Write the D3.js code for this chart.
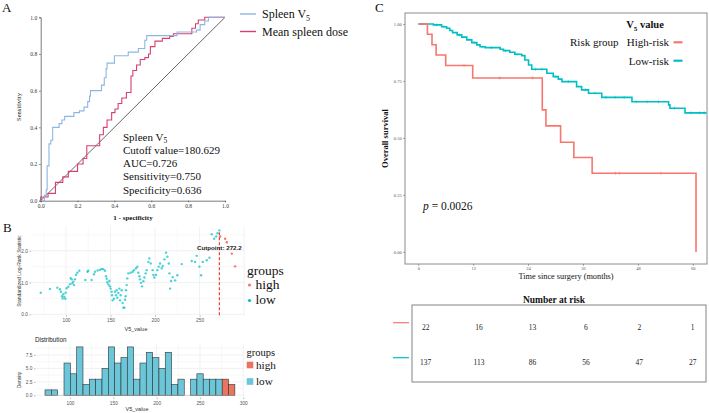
<!DOCTYPE html>
<html>
<head>
<meta charset="utf-8">
<script src="https://cdn.jsdelivr.net/npm/d3@7"></script>
<style>
body { margin: 0; background: #fff; }
svg { display: block; }
</style>
</head>
<body>
<svg id="fig" width="709" height="413"></svg>
<script>
// ---------- data ----------
// ROC curves: [1 - specificity, sensitivity], sensitivity rises at that x
let rocV5 = [[0,0],[0.02,0.03],[0.03,0.06],[0.035,0.19],[0.045,0.31],[0.055,0.33],[0.065,0.4],[0.1,0.42],[0.115,0.44],[0.13,0.46],[0.18,0.48],[0.21,0.49],[0.235,0.51],[0.255,0.54],[0.265,0.57],[0.27,0.6],[0.33,0.63],[0.345,0.67],[0.355,0.72],[0.36,0.75],[0.4,0.79],[0.475,0.81],[0.53,0.83],[0.565,0.875],[0.575,0.9],[0.71,0.9],[0.74,0.92],[0.845,0.93],[0.865,0.96],[0.89,0.98],[0.91,1],[1,1]]
let rocMean = [[0,0],[0,0.02],[0.04,0.04],[0.08,0.1],[0.12,0.13],[0.15,0.16],[0.2,0.2],[0.23,0.23],[0.25,0.3],[0.32,0.36],[0.34,0.4],[0.36,0.44],[0.385,0.48],[0.403,0.5],[0.42,0.53],[0.44,0.56],[0.465,0.59],[0.49,0.68],[0.5,0.71],[0.52,0.74],[0.54,0.77],[0.565,0.78],[0.585,0.8],[0.595,0.84],[0.62,0.87],[0.66,0.885],[0.7,0.895],[0.72,0.91],[0.82,0.94],[0.84,0.965],[0.855,0.985],[0.89,1],[1,1]]
let rocStats = ['Spleen V', 'Cutoff value=180.629', 'AUC=0.726', 'Sensitivity=0.750', 'Specificity=0.636']

// maximally selected rank statistic: [V5 value, statistic]
let scatterLow = [[71.6,0.68],[82,0.8],[90.2,0.84],[93.2,0.79],[94.3,0.71],[95.5,0.57],[96.2,0.5],[97,0.63],[98.1,0.55],[99.2,0.49],[99.6,0.68],[100.7,0.82],[102.6,0.87],[104.5,0.95],[105.2,1.14],[106.4,1.1],[107.1,0.98],[108.2,1.03],[109,0.92],[110.1,1.1],[111.2,1.24],[112.7,1.31],[115,1.37],[121.7,1.08],[124,1.34],[125,1.37],[128.8,1.08],[131.4,1.26],[132.6,1.34],[135.5,1.38],[138.2,1.4],[140,1.43],[141.9,1.42],[143.8,1.37],[144.9,1.2],[145.7,1.12],[146.4,1.01],[147.6,0.94],[148.7,1.05],[149.4,0.88],[150.2,0.81],[151.3,0.71],[151.7,0.6],[152.4,0.44],[153.9,0.49],[155,0.71],[156.2,0.6],[156.9,0.76],[157.7,0.52],[158.8,0.67],[159.9,0.81],[160.7,0.44],[161.4,0.6],[162.5,0.76],[163.6,0.36],[164.4,0.21],[165.5,0.21],[166.3,0.46],[167,0.57],[167.4,0.76],[168.2,0.92],[168.9,1.13],[170,1.29],[172.6,1.31],[174.9,1.34],[176.4,1.39],[178.6,1.45],[180.1,1.5],[181.2,1.31],[182.4,1.2],[183.1,1.1],[184.2,0.99],[185.4,0.88],[186.9,1.04],[188,1.16],[189.5,1.29],[190.6,1.39],[192.5,1.65],[193.6,1.76],[195.1,1.6],[197.3,1.39],[198.1,1.24],[199.2,1.16],[201.1,1.24],[202.6,1.39],[204.1,1.5],[205.6,1.6],[207.5,1.45],[208.6,1.52],[210.5,1.73],[212.4,1.94],[213.9,1.81],[215.4,1.6],[216.1,1.29],[216.9,0.81],[218,1.05],[219.9,1.17],[222.5,1.07],[225.1,1.23],[230,1.58],[241.2,1.68],[245,1.65],[246.8,1.84],[249.8,1.5],[251.7,1.23],[253.6,1.65],[258.1,1.7],[261.1,1.78],[263.7,2.52],[266.3,2.38],[268.6,2.45],[270.1,2.55],[272.2,2.64]]
let scatterHigh = [[273.1,2.45],[278.7,2.38],[280.6,2.27],[286.2,1.91],[289.9,1.51]]
let cutpoint = 272.2

// histogram of V5 value (30 bins)
let histStart = 71.2
let histBinWidth = 7.303
let histLow  = [1,1,0,6,4,9,2,3,3,5,9,6,7,9,3,6,8,7,5,8,2,3,0,3,4,3,3,3,0,0]
let histHigh = [0,0,0,0,0,0,0,0,0,0,0,0,0,0,0,0,0,0,0,0,0,0,0,0,0,0,0,0,3,2]

// Kaplan-Meier: [months, survival] at each drop
let kmHigh = [[0,1],[2,0.955],[3,0.909],[3.9,0.864],[6,0.818],[11.9,0.763],[27.1,0.623],[27.9,0.553],[31.1,0.481],[34,0.414],[38,0.345],[60.7,0]]
let kmLow = [[0,1],[3.3,0.996],[5.1,0.988],[6.2,0.981],[6.9,0.971],[7.5,0.962],[8.5,0.952],[9.5,0.942],[10.6,0.93],[11.7,0.918],[12.8,0.908],[13.5,0.9],[14.6,0.896],[17.9,0.889],[18.6,0.883],[20,0.876],[21.1,0.867],[22.6,0.861],[23.3,0.842],[24.1,0.82],[24.8,0.801],[28.1,0.784],[29.5,0.769],[30.6,0.758],[31.4,0.747],[34.6,0.725],[35.7,0.711],[37.2,0.696],[40.1,0.678],[46.7,0.659],[54.7,0.645],[55,0.63],[58.3,0.61],[63,0.61]]
let censorHigh = [10, 17.8, 25, 43.1, 44, 53]
let censorLow = [4, 5.6, 9, 12.3, 14, 16, 19, 21.6, 25.6, 27, 30, 32.8, 36.5, 38.6, 41, 43, 45, 47.6, 50, 52.5, 56, 59.6, 61.5, 62.5]

let riskTimes = [0, 12, 24, 36, 48, 60]
let riskHigh = [22, 16, 13, 6, 2, 1]
let riskLow = [137, 113, 86, 56, 47, 27]

// ---------- colours ----------
let blueRoc = '#8db6e4'
let redRoc = '#d8406f'
let red = '#f8766d'
let teal = '#00bfc4'
let SERIF = '"Liberation Serif", "Times New Roman", serif'
let SANS = '"Liberation Sans", Arial, sans-serif'

let svg = d3.select('#fig')

let txt = (g, x, y, s, size, opts = {}) => {
    let t = g.append('text')
        .attr('x', x).attr('y', y)
        .attr('font-family', opts.family || SERIF)
        .attr('font-size', size)
        .attr('fill', opts.fill || '#111')
        .attr('text-anchor', opts.anchor || 'start')
        .text(s)
    if (opts.bold) t.attr('font-weight', 'bold')
    if (opts.rotate) t.attr('transform', `rotate(-90,${x},${y})`)
    return t
}

// panel letters
txt(svg, 2, 12, 'A', 13)
txt(svg, 3, 232, 'B', 13)
txt(svg, 375, 12, 'C', 13)

// ========== Panel A : ROC ==========
let ax = d3.scaleLinear().domain([0, 1]).range([40.7, 225])
let ay = d3.scaleLinear().domain([0, 1]).range([200.7, 17.3])
let gA = svg.append('g')

let styleAxis = (g, size, color) => {
    g.selectAll('text').attr('font-family', SERIF).attr('font-size', size).attr('fill', color)
}

gA.append('g').attr('transform', 'translate(0,200.7)')
    .call(d3.axisBottom(ax).tickValues(d3.range(0, 1.01, 0.2)).tickFormat(d3.format('.1f')).tickSize(1.5).tickPadding(2))
    .call(g => g.selectAll('path,line').attr('stroke', '#444').attr('stroke-width', 0.7))
    .call(g => styleAxis(g, 5.5, '#333'))
gA.append('g').attr('transform', 'translate(40.7,0)')
    .call(d3.axisLeft(ay).tickValues(d3.range(0, 1.01, 0.2)).tickFormat(d3.format('.1f')).tickSize(1.5).tickPadding(2))
    .call(g => g.selectAll('path,line').attr('stroke', '#444').attr('stroke-width', 0.7))
    .call(g => styleAxis(g, 5.5, '#333'))

gA.append('line')
    .attr('x1', ax(0)).attr('y1', ay(0)).attr('x2', ax(1)).attr('y2', ay(1))
    .attr('stroke', '#555').attr('stroke-width', 0.9)

let rocLine = d3.line().x(d => ax(d[0])).y(d => ay(d[1])).curve(d3.curveStepAfter)
gA.append('path').datum(rocMean).attr('d', rocLine)
    .attr('fill', 'none').attr('stroke', redRoc).attr('stroke-width', 1.1)
gA.append('path').datum(rocV5).attr('d', rocLine)
    .attr('fill', 'none').attr('stroke', blueRoc).attr('stroke-width', 1.1)

txt(gA, 20.5, 107, 'Sensitivity', 6.5, { anchor: 'middle', rotate: true })
txt(gA, 133, 220, '1 - specificity', 7, { anchor: 'middle', bold: true })

// stats block
rocStats.forEach((s, i) => {
    let t = txt(gA, 123, 140.5 + i * 13.3, s, 11)
    if (i === 0) t.append('tspan').attr('font-size', 7.5).attr('dy', 2.5).text('5')
})

// legend
let legA = [['Spleen V', blueRoc, '5'], ['Mean spleen dose', redRoc, null]]
legA.forEach((d, i) => {
    let y = 14 + i * 17.5
    gA.append('line').attr('x1', 240).attr('x2', 256).attr('y1', y).attr('y2', y)
        .attr('stroke', d[1]).attr('stroke-width', 1.4)
    let t = txt(gA, 262, y + 4, d[0], 12)
    if (d[2]) t.append('tspan').attr('font-size', 8).attr('dy', 2.5).text(d[2])
})

// ========== Panel B top : rank statistic scatter ==========
let sx = d3.scaleLinear().domain([60.7, 301]).range([31, 245])
let sy = d3.scaleLinear().domain([-0.03, 2.76]).range([315.3, 226.6])
let gB = svg.append('g')

d3.range(75, 301, 25).forEach(v => {
    gB.append('line').attr('x1', sx(v)).attr('x2', sx(v)).attr('y1', sy.range()[0]).attr('y2', sy.range()[1])
        .attr('stroke', '#ebebeb').attr('stroke-width', v % 50 === 0 ? 0.7 : 0.35)
})
d3.range(0, 2.76, 0.5).forEach(v => {
    gB.append('line').attr('x1', 31).attr('x2', 245).attr('y1', sy(v)).attr('y2', sy(v))
        .attr('stroke', '#ebebeb').attr('stroke-width', v % 1 === 0 ? 0.7 : 0.35)
})

gB.append('g').attr('transform', 'translate(0,315.3)')
    .call(d3.axisBottom(sx).tickValues([100, 150, 200, 250]).tickSize(1.5).tickPadding(2))
    .call(g => g.select('.domain').remove())
    .call(g => g.selectAll('line').attr('stroke', '#777').attr('stroke-width', 0.5))
    .call(g => g.selectAll('text').attr('font-family', SANS).attr('font-size', 4.8).attr('fill', '#555'))
gB.append('g').attr('transform', 'translate(31,0)')
    .call(d3.axisLeft(sy).tickValues([0, 1, 2]).tickSize(1.5).tickPadding(1.5))
    .call(g => g.select('.domain').remove())
    .call(g => g.selectAll('line').attr('stroke', '#777').attr('stroke-width', 0.5))
    .call(g => g.selectAll('text').attr('font-family', SANS).attr('font-size', 4.8).attr('fill', '#555'))

gB.selectAll('circle.low').data(scatterLow).enter().append('circle')
    .attr('class', 'low')
    .attr('cx', d => sx(d[0])).attr('cy', d => sy(d[1])).attr('r', 1.2)
    .attr('fill', teal).attr('fill-opacity', 0.7)
gB.selectAll('circle.high').data(scatterHigh).enter().append('circle')
    .attr('class', 'high')
    .attr('cx', d => sx(d[0])).attr('cy', d => sy(d[1])).attr('r', 1.2)
    .attr('fill', red)

gB.append('line').attr('x1', sx(cutpoint)).attr('x2', sx(cutpoint))
    .attr('y1', sy(-0.03)).attr('y2', sy(2.6))
    .attr('stroke', '#e8302a').attr('stroke-width', 1.1).attr('stroke-dasharray', '3,2')
txt(gB, sx(cutpoint), 250, 'Cutpoint: 272.2', 6.2, { family: SANS, anchor: 'middle', bold: true, fill: '#222' })

txt(gB, 136, 330.5, 'V5_value', 5.5, { family: SANS, anchor: 'middle', fill: '#333' })
txt(gB, 21, 271, 'Standardized Log-Rank Statistic', 5, { family: SANS, anchor: 'middle', rotate: true, fill: '#333' })

txt(gB, 247, 274.5, 'groups', 13.5)
let legB = [['high', red], ['low', teal]]
legB.forEach((d, i) => {
    let y = 285 + i * 15.5
    gB.append('circle').attr('cx', 249.5).attr('cy', y).attr('r', 1.6).attr('fill', d[1])
    txt(gB, 255.5, y + 3.8, d[0], 13.5)
})

// ========== Panel B bottom : distribution ==========
let hx = d3.scaleLinear().domain([60.2, 301.3]).range([35.5, 244.4])
let hy = d3.scaleLinear().domain([-0.45, 9.45]).range([397.7, 344.5])
let gH = svg.append('g')

d3.range(75, 301, 25).forEach(v => {
    gH.append('line').attr('x1', hx(v)).attr('x2', hx(v)).attr('y1', 397.7).attr('y2', 344.5)
        .attr('stroke', '#ebebeb').attr('stroke-width', v % 50 === 0 ? 0.7 : 0.35)
})
d3.range(0, 9.1, 1.25).forEach(v => {
    gH.append('line').attr('x1', 35.5).attr('x2', 244.4).attr('y1', hy(v)).attr('y2', hy(v))
        .attr('stroke', '#ebebeb').attr('stroke-width', (v / 2.5) % 1 === 0 ? 0.7 : 0.35)
})

gH.append('g').attr('transform', 'translate(0,397.7)')
    .call(d3.axisBottom(hx).tickValues([100, 150, 200, 250, 300]).tickSize(1.5).tickPadding(2))
    .call(g => g.select('.domain').remove())
    .call(g => g.selectAll('line').attr('stroke', '#777').attr('stroke-width', 0.5))
    .call(g => g.selectAll('text').attr('font-family', SANS).attr('font-size', 4.8).attr('fill', '#555'))
gH.append('g').attr('transform', 'translate(35.5,0)')
    .call(d3.axisLeft(hy).tickValues([0, 2.5, 5, 7.5]).tickFormat(d3.format('.1f')).tickSize(1.5).tickPadding(1.5))
    .call(g => g.select('.domain').remove())
    .call(g => g.selectAll('line').attr('stroke', '#777').attr('stroke-width', 0.5))
    .call(g => g.selectAll('text').attr('font-family', SANS).attr('font-size', 4.8).attr('fill', '#555'))

let bins = histLow.map((c, i) => ({
    x0: histStart + i * histBinWidth,
    x1: histStart + (i + 1) * histBinWidth,
    low: c,
    high: histHigh[i]
}))
gH.selectAll('rect.low').data(bins.filter(b => b.low > 0)).enter().append('rect')
    .attr('class', 'low')
    .attr('x', d => hx(d.x0)).attr('width', d => hx(d.x1) - hx(d.x0))
    .attr('y', d => hy(d.low)).attr('height', d => hy(0) - hy(d.low))
    .attr('fill', '#6ac6d8').attr('stroke', '#333').attr('stroke-width', 0.6)
gH.selectAll('rect.high').data(bins.filter(b => b.high > 0)).enter().append('rect')
    .attr('class', 'high')
    .attr('x', d => hx(d.x0)).attr('width', d => hx(d.x1) - hx(d.x0))
    .attr('y', d => hy(d.high)).attr('height', d => hy(0) - hy(d.high))
    .attr('fill', '#ea7460').attr('stroke', '#333').attr('stroke-width', 0.6)
// thin baseline through empty bins
gH.append('line').attr('x1', hx(histStart)).attr('x2', hx(histStart + 30 * histBinWidth))
    .attr('y1', hy(0)).attr('y2', hy(0)).attr('stroke', '#c9a0a0').attr('stroke-width', 0.5)

txt(gH, 35, 341.5, 'Distribution', 6.3, { family: SANS, fill: '#222' })
txt(gH, 137, 411.2, 'V5_value', 5.5, { family: SANS, anchor: 'middle', fill: '#333' })
txt(gH, 21, 380, 'Density', 5, { family: SANS, anchor: 'middle', rotate: true, fill: '#333' })

txt(gH, 246.5, 356, 'groups', 10.5)
let legH = [['high', '#ea7460'], ['low', '#6ac6d8']]
legH.forEach((d, i) => {
    let y = 365 + i * 16.5
    gH.append('rect').attr('x', 246.7).attr('y', y - 3.3).attr('width', 6.6).attr('height', 6.6).attr('fill', d[1])
    txt(gH, 256, y + 3.8, d[0], 11.2)
})

// ========== Panel C : Kaplan-Meier ==========
let kx = d3.scaleLinear().domain([-2.9, 63.1]).range([405, 707])
let ky = d3.scaleLinear().domain([-0.053, 1.048]).range([264, 13])
let gC = svg.append('g')

gC.append('rect').attr('x', 405).attr('y', 13).attr('width', 302).attr('height', 251)
    .attr('fill', 'none').attr('stroke', '#8c8c8c').attr('stroke-width', 1)

gC.append('g').attr('transform', 'translate(0,264)')
    .call(d3.axisBottom(kx).tickValues(riskTimes).tickSize(1.8).tickPadding(1.5))
    .call(g => g.select('.domain').remove())
    .call(g => g.selectAll('line').attr('stroke', '#666').attr('stroke-width', 0.6))
    .call(g => g.selectAll('text').attr('font-family', SERIF).attr('font-size', 4.5).attr('fill', '#555'))
gC.append('g').attr('transform', 'translate(405,0)')
    .call(d3.axisLeft(ky).tickValues([0, 0.25, 0.5, 0.75, 1]).tickFormat(d3.format('.2f')).tickSize(1.8).tickPadding(1.5))
    .call(g => g.select('.domain').remove())
    .call(g => g.selectAll('line').attr('stroke', '#666').attr('stroke-width', 0.6))
    .call(g => g.selectAll('text').attr('font-family', SERIF).attr('font-size', 4.5).attr('fill', '#555'))

let kmLine = d3.line().x(d => kx(d[0])).y(d => ky(d[1])).curve(d3.curveStepAfter)
let survAt = (km, t) => {
    let s = 1
    km.forEach(d => { if (d[0] <= t) s = d[1] })
    return s
}
let drawKm = (km, censors, color) => {
    gC.append('path').datum(km).attr('d', kmLine)
        .attr('fill', 'none').attr('stroke', color).attr('stroke-width', 1.6)
    censors.forEach(t => {
        let cx = kx(t), cy = ky(survAt(km, t))
        gC.append('path').attr('d', `M${cx - 1.6},${cy}H${cx + 1.6}M${cx},${cy - 1.6}V${cy + 1.6}`)
            .attr('stroke', color).attr('stroke-width', 0.6).attr('opacity', 0.8)
    })
}
drawKm(kmLow, censorLow, teal)
drawKm(kmHigh, censorHigh, red)

txt(gC, 388, 138.5, 'Overall survival', 8.5, { anchor: 'middle', rotate: true, bold: true })
txt(gC, 566, 279, 'Time since surgery (months)', 8.3, { anchor: 'middle' })

let pText = txt(gC, 423, 210, '', 11.5)
pText.append('tspan').attr('font-style', 'italic').text('p')
pText.append('tspan').text(' = 0.0026')

// legend
let vLab = txt(gC, 645, 28, 'V', 10.5, { anchor: 'middle', bold: true })
vLab.append('tspan').attr('font-size', 7).attr('dy', 2.5).text('5')
vLab.append('tspan').attr('dy', -2.5).text(' value')
txt(gC, 570, 46, 'Risk group', 11)
let legC = [['High-risk', red], ['Low-risk', teal]]
legC.forEach((d, i) => {
    let y = 42.3 + i * 18.4
    txt(gC, 669, y + 3.8, d[0], 11, { anchor: 'end' })
    gC.append('line').attr('x1', 673.5).attr('x2', 682.5).attr('y1', y).attr('y2', y)
        .attr('stroke', d[1]).attr('stroke-width', 2.2)
})

// ---------- number at risk table ----------
let rx = d3.scaleLinear().domain([0, 60]).range([425.7, 692.7])
let gT = svg.append('g')
txt(gT, 554, 302.5, 'Number at risk', 9.5, { anchor: 'middle', bold: true })
gT.append('rect').attr('x', 412).attr('y', 305).attr('width', 294).attr('height', 77)
    .attr('fill', 'none').attr('stroke', '#777').attr('stroke-width', 0.9)

let riskRows = [[riskHigh, red, 327], [riskLow, teal, 362]]
riskRows.forEach(r => {
    gT.append('line').attr('x1', 393).attr('x2', 409).attr('y1', r[2] - 4.3).attr('y2', r[2] - 4.3)
        .attr('stroke', r[1]).attr('stroke-width', 1.2)
    gT.selectAll(null).data(r[0]).enter().append('text')
        .attr('x', (d, i) => rx(riskTimes[i])).attr('y', r[2] + 2.5)
        .attr('text-anchor', 'middle')
        .attr('font-family', SERIF).attr('font-size', 7.5).attr('fill', '#222')
        .text(d => d)
})
</script>
</body>
</html>
